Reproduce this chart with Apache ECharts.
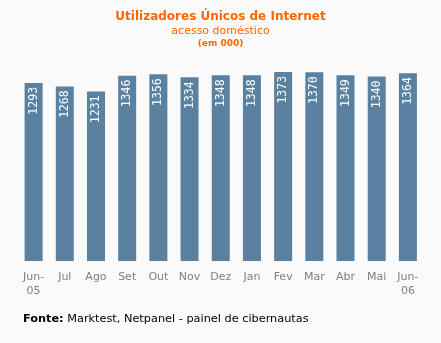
<!DOCTYPE html>
<html><head><meta charset="utf-8">
<script src="https://cdn.jsdelivr.net/npm/echarts@6/dist/echarts.min.js"></script>
<style>html,body{margin:0;padding:0;background:#fafafa;}#c{width:441px;height:343px;}</style>
</head><body><div id="c"></div>
<script>
const categories = ['Jun-\n05','Jul','Ago','Set','Out','Nov','Dez','Jan','Fev','Mar','Abr','Mai','Jun-\n06'];
const values = [1293,1268,1231,1346,1356,1334,1348,1348,1373,1370,1349,1340,1364];
const titleText = 'Utilizadores Únicos de Internet';
const subtitleText = 'acesso doméstico';
const unitText = '(em 000)';
const sourceLabel = 'Fonte:';
const sourceText = ' Marktest, Netpanel - painel de cibernautas';

const chart = echarts.init(document.getElementById('c'), null, {renderer:'canvas'});
chart.setOption({
  backgroundColor:'#fafafa',
  animation:false,
  graphic:[
    {type:'text', left:'center', top:11, style:{text:titleText, fill:'#ff6600', font:'bold 12px "DejaVu Sans", sans-serif'}},
    {type:'text', left:'center', top:26, style:{text:subtitleText, fill:'#ff6600', font:'11px "DejaVu Sans", sans-serif'}},
    {type:'text', left:'center', top:39, style:{text:unitText, fill:'#ff6600', font:'bold 9px "DejaVu Sans", sans-serif'}},
    {type:'text', left:23, top:314, style:{rich:{b:{fontWeight:'bold',fontSize:11.3,fontFamily:'"DejaVu Sans", sans-serif',fill:'#000'},n:{fontSize:11.3,fontFamily:'"DejaVu Sans", sans-serif',fill:'#000'}}, text:'{b|'+sourceLabel+'}{n|'+sourceText+'}'}}
  ],
  grid:{left:18, right:17.5, top:68.2, bottom:82, containLabel:false},
  xAxis:{type:'category', data:categories, axisLine:{show:false}, axisTick:{show:false},
    axisLabel:{color:'#808080', fontSize:11, fontFamily:'"DejaVu Sans", sans-serif', margin:9, lineHeight:14, interval:0}},
  yAxis:{type:'value', min:0, max:1400, show:false, splitLine:{show:false}},
  series:[{type:'bar', data:values, barWidth:18, itemStyle:{color:'#5b81a1'},
    label:{show:true, position:'insideTop', rotate:90, align:'right', verticalAlign:'middle', distance:4,
      color:'#fff', fontSize:11.5, fontFamily:'"DejaVu Sans Mono", monospace'}}]
});
</script></body></html>
